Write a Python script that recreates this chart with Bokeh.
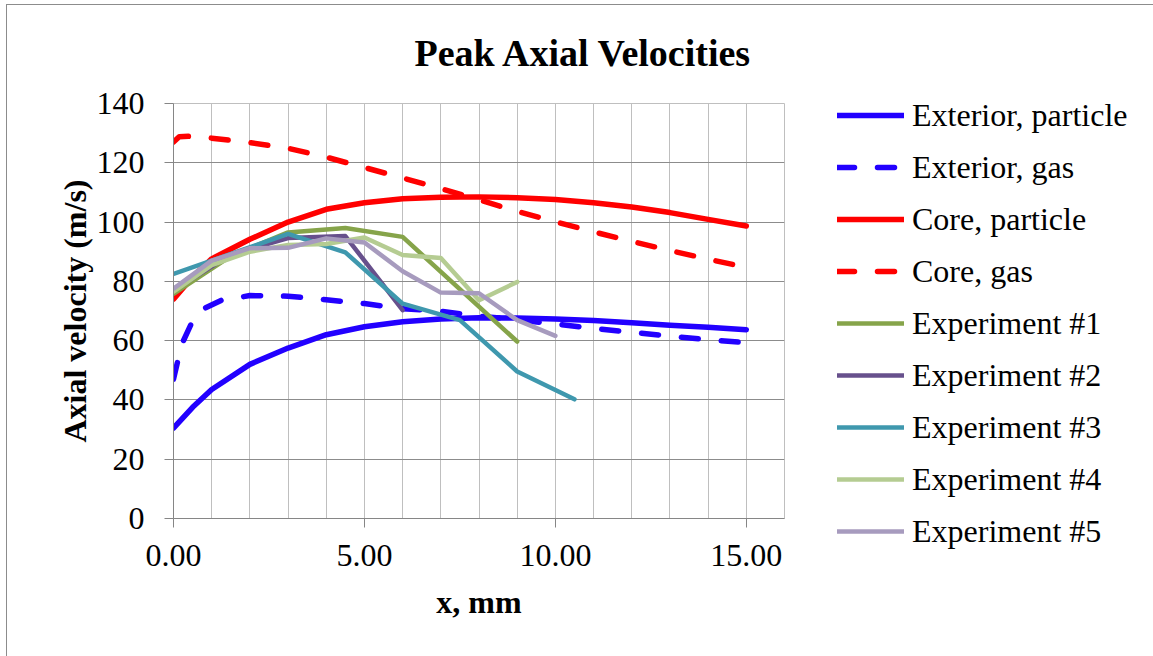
from bokeh.plotting import figure
from bokeh.models import Range1d, FixedTicker, PrintfTickFormatter, Legend, LegendItem
from bokeh.embed import file_html
from bokeh.resources import INLINE

# ---------------- data ----------------
ext_particle_x = [0, 0.5, 1, 2, 3, 4, 5, 6, 7, 8, 9, 10, 11, 12, 13, 14, 15]
ext_particle_y = [30.5, 37.5, 43.5, 52.0, 57.5, 62.0, 64.7, 66.4, 67.3, 67.7, 67.6, 67.3, 66.8, 66.0, 65.2, 64.5, 63.7]

ext_gas_x = [0, 0.1, 0.25, 0.45, 0.8, 1.25, 2, 3, 4, 5, 6, 7, 8, 9, 10, 11, 12, 13, 14, 15]
ext_gas_y = [47.0, 52.5, 59.7, 65.3, 70.8, 73.6, 75.2, 75.0, 73.8, 72.5, 70.8, 69.9, 68.3, 67.0, 65.6, 64.1, 62.8, 61.5, 60.3, 59.3]

core_particle_x = [0, 0.5, 1, 2, 3, 4, 5, 6, 7, 8, 9, 10, 11, 12, 13, 14, 15]
core_particle_y = [74.0, 81.5, 87.6, 94.2, 100.0, 104.3, 106.5, 107.9, 108.4, 108.5, 108.2, 107.6, 106.5, 105.1, 103.2, 100.9, 98.7]

core_gas_x = [0, 0.15, 0.5, 1, 2, 3, 4, 5, 6, 7, 8, 9, 10, 11, 12, 13, 14, 15]
core_gas_y = [127.0, 128.8, 129.0, 128.3, 126.8, 124.9, 121.9, 118.4, 114.9, 111.3, 107.5, 103.6, 100.1, 96.7, 93.5, 90.4, 87.5, 84.7]

exp1_x = [0, 1.5, 3, 4.5, 6, 9]
exp1_y = [75.8, 88.5, 96.5, 98.0, 95.0, 59.7]

exp2_x = [0, 1.5, 3, 4.5, 6]
exp2_y = [77.0, 89.0, 94.6, 95.3, 70.3]

exp3_x = [0, 3, 4.5, 6, 7.5, 9, 10.5]
exp3_y = [82.5, 96.0, 89.8, 72.5, 66.9, 49.6, 40.2]

exp4_x = [0, 1, 2, 3, 4, 5, 6, 7, 8, 9]
exp4_y = [76.5, 85.5, 90.0, 92.3, 92.6, 94.8, 88.9, 87.9, 73.6, 79.8]

exp5_x = [0, 1, 2, 3, 4, 5, 6, 7, 8, 9, 10]
exp5_y = [77.5, 87.0, 91.2, 91.3, 94.5, 93.1, 83.4, 76.2, 76.0, 66.9, 61.6]

series_names = ["Exterior, particle", "Exterior, gas", "Core, particle", "Core, gas",
                "Experiment #1", "Experiment #2", "Experiment #3", "Experiment #4", "Experiment #5"]

x_major_ticks = [0, 5, 10, 15]
x_grid_ticks = list(range(0, 17))
y_ticks = [0, 20, 40, 60, 80, 100, 120, 140]

# ---------------- main figure ----------------
SERIF = "Liberation Serif"
H = 656
PW = 800                      # width of the plotting figure
LW = 1153 - PW                # width of the legend figure
FL, FR, FT, FB = 173, 784, 100, 518   # frame edges in canvas pixels
BORDER = "#8C8C8C"

p = figure(width=PW, height=H, output_backend="svg", toolbar_location=None,
           x_range=Range1d(0, 16), y_range=Range1d(0, 140),
           min_border_left=FL, min_border_right=PW - FR,
           min_border_top=FT, min_border_bottom=H - FB)

p.background_fill_color = "white"
p.border_fill_alpha = 0
p.outline_line_color = "#BFBFBF"
p.outline_line_width = 1
p.styles = {
    "background-color": "white",
    "background-image": f"linear-gradient({BORDER}, {BORDER}), linear-gradient({BORDER}, {BORDER})",
    "background-size": "1px 100%, 100% 1px",
    "background-position": "6px 4px, 6px 4px",
    "background-repeat": "no-repeat",
}

# title
p.title.text = "Peak Axial Velocities"
p.title.text_font = SERIF
p.title.text_font_size = "38px"
p.title.text_font_style = "bold"
p.title.text_color = "black"
p.title.align = "left"
p.title.offset = 241
p.title.standoff = 59

# axes
for ax in (p.xaxis[0], p.yaxis[0]):
    ax.axis_line_color = "#868686"
    ax.axis_line_width = 1
    ax.major_tick_line_color = "#868686"
    ax.major_tick_out = 9
    ax.major_tick_in = 0
    ax.minor_tick_line_color = None
    ax.major_label_text_font = SERIF
    ax.major_label_text_font_size = "32px"
    ax.major_label_text_color = "black"
    ax.axis_label_text_font = SERIF
    ax.axis_label_text_font_size = "32px"
    ax.axis_label_text_font_style = "bold"
    ax.axis_label_text_color = "black"

p.xaxis.ticker = FixedTicker(ticks=x_major_ticks)
p.xaxis.formatter = PrintfTickFormatter(format="%.2f")
p.xaxis.major_label_standoff = 17
p.xaxis.axis_label = "x, mm"
p.xaxis.axis_label_standoff = 15

p.yaxis.ticker = FixedTicker(ticks=y_ticks)
p.yaxis.major_label_standoff = 20
p.yaxis.axis_label = "Axial velocity (m/s)"
p.yaxis.axis_label_standoff = 1

# grids
p.xgrid.ticker = FixedTicker(ticks=x_grid_ticks)
p.xgrid.grid_line_color = "#BFBFBF"
p.xgrid.grid_line_width = 1
p.ygrid.ticker = FixedTicker(ticks=y_ticks[1:-1])
p.ygrid.grid_line_color = "#8C8C8C"
p.ygrid.grid_line_width = 1

# ---------------- lines ----------------
BLUE = "#2200FF"
RED = "#FF0000"
DASH = "17 23"

specs = [
    (ext_particle_x, ext_particle_y, BLUE, "solid", 5.5),
    (ext_gas_x, ext_gas_y, BLUE, DASH, 5.5),
    (core_particle_x, core_particle_y, RED, "solid", 5.5),
    (core_gas_x, core_gas_y, RED, DASH, 5.5),
    (exp1_x, exp1_y, "#86A44A", "solid", 4.5),
    (exp2_x, exp2_y, "#67508C", "solid", 4.5),
    (exp3_x, exp3_y, "#3F98AE", "solid", 4.5),
    (exp4_x, exp4_y, "#B5CC92", "solid", 4.5),
    (exp5_x, exp5_y, "#A79BBE", "solid", 4.5),
]

for xs, ys, col, dash, lw in specs:
    p.line(xs, ys, line_color=col, line_width=lw, line_dash=dash,
           line_cap="round", line_join="round")

# ---------------- legend figure, placed beside the plot ----------------
# Its ranges lie away from the data, so only the legend of these lines shows.
lg = figure(width=LW, height=H, output_backend="svg", toolbar_location=None,
            x_range=Range1d(-100, -99), y_range=Range1d(-100, -99),
            x_axis_type=None, y_axis_type=None,
            min_border_left=0, min_border_right=0, min_border_top=0, min_border_bottom=0)
lg.grid.visible = False
lg.outline_line_color = None
lg.background_fill_alpha = 0
lg.border_fill_alpha = 0
lg.styles = {
    "position": "absolute", "left": f"{PW}px", "top": "0px",
    "background-image": f"linear-gradient({BORDER}, {BORDER})",
    "background-size": "100% 1px",
    "background-position": "0px 4px",
    "background-repeat": "no-repeat",
}

items = []
for (xs, ys, col, dash, lw), name in zip(specs, series_names):
    r = lg.line(xs, ys, line_color=col, line_width=lw, line_dash=dash,
                line_cap="round", line_join="round")
    items.append(LegendItem(label=name, renderers=[r]))

LEG_TOP = 95
LEG_H = 9 * 40 + 8 * 12
legend = Legend(items=items, location=(837 - PW, H - LEG_TOP - LEG_H),
                orientation="vertical",
                label_text_font=SERIF, label_text_font_size="32px",
                label_text_color="black",
                glyph_width=67, glyph_height=40, label_height=40,
                label_standoff=8, spacing=12, padding=0, margin=0,
                border_line_color=None, background_fill_alpha=0)
lg.add_layout(legend, "center")

open("out.html", "w").write(file_html([p, lg], INLINE))
